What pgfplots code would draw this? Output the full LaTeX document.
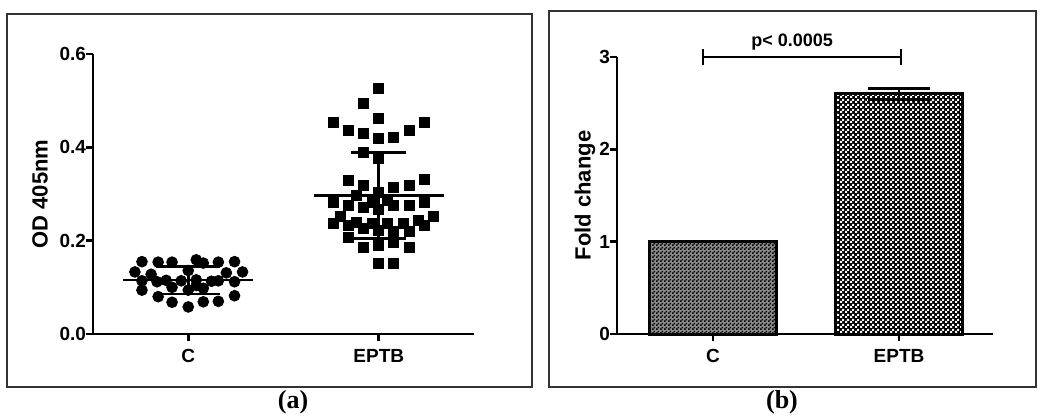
\documentclass[border=0pt]{standalone}
\usepackage{pgfplots}
\pgfplotsset{compat=1.18}
\usetikzlibrary{patterns}
\usepackage{fontspec}
\setmainfont{Liberation Sans}
\newfontfamily\serifb{Liberation Serif}

\pgfdeclarepatternformonly{chkfine}{\pgfpointorigin}{\pgfqpoint{2bp}{2bp}}{\pgfqpoint{2bp}{2bp}}{%
 \pgfpathrectangle{\pgfpointorigin}{\pgfqpoint{1bp}{1bp}}%
 \pgfpathrectangle{\pgfqpoint{1bp}{1bp}}{\pgfqpoint{1bp}{1bp}}%
 \pgfusepath{fill}}
\pgfdeclarepatternformonly{chkbig}{\pgfpointorigin}{\pgfqpoint{2.5bp}{2.5bp}}{\pgfqpoint{2.5bp}{2.5bp}}{%
 \pgfpathrectangle{\pgfpointorigin}{\pgfqpoint{1.25bp}{1.25bp}}%
 \pgfpathrectangle{\pgfqpoint{1.25bp}{1.25bp}}{\pgfqpoint{1.25bp}{1.25bp}}%
 \pgfusepath{fill}}

\pgfplotsset{gp/.style={
  scale only axis, axis lines=left,
  axis line style={line width=1.3bp,-},
  tick style={line width=1.3bp, black},
  tick align=outside, major tick length=3.5bp,
  xtick={1,2}, xticklabels={C,EPTB},
  ticklabel style={font=\bfseries\fontsize{9.5bp}{11bp}\selectfont},
  /pgf/number format/assume math mode=true,
  label style={font=\bfseries\fontsize{11bp}{13bp}\selectfont},
  xticklabel shift=0.5bp, yticklabel shift=-3.5bp,
  clip=false, anchor=south west}}

\begin{document}
\begin{tikzpicture}
\useasboundingbox (0,0) rectangle (519bp,-209bp);
\fill[white] (0,0) rectangle (519bp,-209bp);
\draw[line width=0.6bp, black!80] (3.5bp,-7bp) rectangle (266bp,-193.5bp);
\draw[line width=0.6bp, black!80] (274.5bp,-5.5bp) rectangle (518bp,-193.5bp);
\node[font=\serifb\bfseries\fontsize{13bp}{15bp}\selectfont] at (146.5bp,-201bp) {(a)};
\node[font=\serifb\bfseries\fontsize{13bp}{15bp}\selectfont] at (391bp,-201bp) {(b)};

\begin{axis}[gp, at={(46.5bp,-167bp)}, width=190.5bp, height=140bp,
  xmin=0.5, xmax=2.5, ymin=0, ymax=0.6, ytick={0,0.2,0.4,0.6},
  yticklabel style={/pgf/number format/.cd, fixed, fixed zerofill, precision=1},
  ylabel={OD 405nm}, ylabel style={at={(axis description cs:-0.139,0.5)}, anchor=center}]
\addplot[only marks, mark=*, mark size=2.7bp, black] coordinates {
(0.757,0.155) (0.842,0.154) (0.915,0.154) (1.042,0.159) (1.079,0.152) (1.158,0.154) (1.243,0.155)
(0.720,0.133) (0.805,0.128) (1.000,0.136) (1.200,0.131) (1.285,0.133)
(0.757,0.114) (0.836,0.112) (0.884,0.115) (0.963,0.114) (1.042,0.116) (1.122,0.113) (1.158,0.114) (1.243,0.112)
(0.757,0.094) (0.915,0.100) (1.000,0.094) (1.079,0.098) (1.042,0.104)
(0.842,0.080) (1.243,0.082)
(0.915,0.068) (1.079,0.069) (1.158,0.070)
(1.000,0.058)};
\addplot[only marks, mark=square*, mark size=2.5bp, black] coordinates {
(2.000,0.527) (1.921,0.495) (1.762,0.454) (2.000,0.463) (2.238,0.454)
(1.841,0.437) (2.159,0.437) (1.921,0.429) (2.000,0.420) (2.079,0.422)
(1.921,0.390) (2.000,0.377) (1.841,0.330) (2.238,0.332) (1.921,0.319)
(2.079,0.315) (2.159,0.319) (2.000,0.304) (1.884,0.298) (1.762,0.281)
(1.841,0.276) (1.921,0.272) (1.968,0.283) (2.048,0.287) (2.079,0.276)
(2.159,0.276) (2.238,0.283) (2.000,0.266) (1.799,0.251) (2.286,0.251)
(1.762,0.236) (1.841,0.233) (1.884,0.240) (1.968,0.238) (2.048,0.238)
(2.127,0.238) (2.206,0.244) (2.238,0.233) (1.921,0.227) (2.000,0.223)
(2.079,0.219) (2.159,0.219) (1.841,0.206) (2.079,0.197) (1.921,0.186)
(2.000,0.190) (2.159,0.186) (2.000,0.152) (2.079,0.152)};
\addplot[line width=1.3bp, black] coordinates {(0.66,0.116) (1.34,0.116)};
\addplot[line width=1.3bp, black] coordinates {(0.833,0.145) (1.167,0.145)};
\addplot[line width=1.3bp, black] coordinates {(0.833,0.086) (1.167,0.086)};
\addplot[line width=1.3bp, black] coordinates {(1,0.086) (1,0.145)};
\addplot[line width=1.3bp, black] coordinates {(1.66,0.297) (2.34,0.297)};
\addplot[line width=1.3bp, black] coordinates {(1.855,0.389) (2.145,0.389)};
\addplot[line width=1.3bp, black] coordinates {(1.855,0.205) (2.145,0.205)};
\addplot[line width=1.3bp, black] coordinates {(2,0.205) (2,0.389)};
\end{axis}

\begin{axis}[gp, at={(308.5bp,-167bp)}, width=188bp, height=138.5bp,
  xmin=0.484, xmax=2.505, ymin=0, ymax=3, ytick={0,1,2,3},
  ylabel={Fold change}, ylabel style={at={(axis description cs:-0.085,0.5)}, anchor=center}]
\addplot[ybar, bar shift=0pt, bar width=0.683, draw=black, line width=1.5bp,
  fill=black!45, postaction={pattern=chkfine, pattern color=black},
  error bars/.cd, y dir=both, y explicit,
  error bar style={line width=1.3bp, black},
  error mark options={rotate=90, mark size=15bp, line width=1.3bp, black}]
  coordinates {(1,1.0) +- (0,0.005)};
\addplot[ybar, bar shift=0pt, bar width=0.683, draw=black, line width=1.5bp,
  fill=black, postaction={pattern=chkbig, pattern color=white},
  error bars/.cd, y dir=both, y explicit,
  error bar style={line width=1.3bp, black},
  error mark options={rotate=90, mark size=15.5bp, line width=1.3bp, black}]
  coordinates {(2,2.6) +- (0,0.06)};
\addplot[line width=1.3bp, black] coordinates {(0.946,3) (2.01,3)};
\addplot[line width=1.3bp, black] coordinates {(0.946,2.91) (0.946,3.09)};
\addplot[line width=1.3bp, black] coordinates {(2.01,2.91) (2.01,3.09)};
\node[font=\bfseries\fontsize{9bp}{11bp}\selectfont] at (axis cs:1.425,3.16) {p< 0.0005};
\end{axis}
\end{tikzpicture}
\end{document}
